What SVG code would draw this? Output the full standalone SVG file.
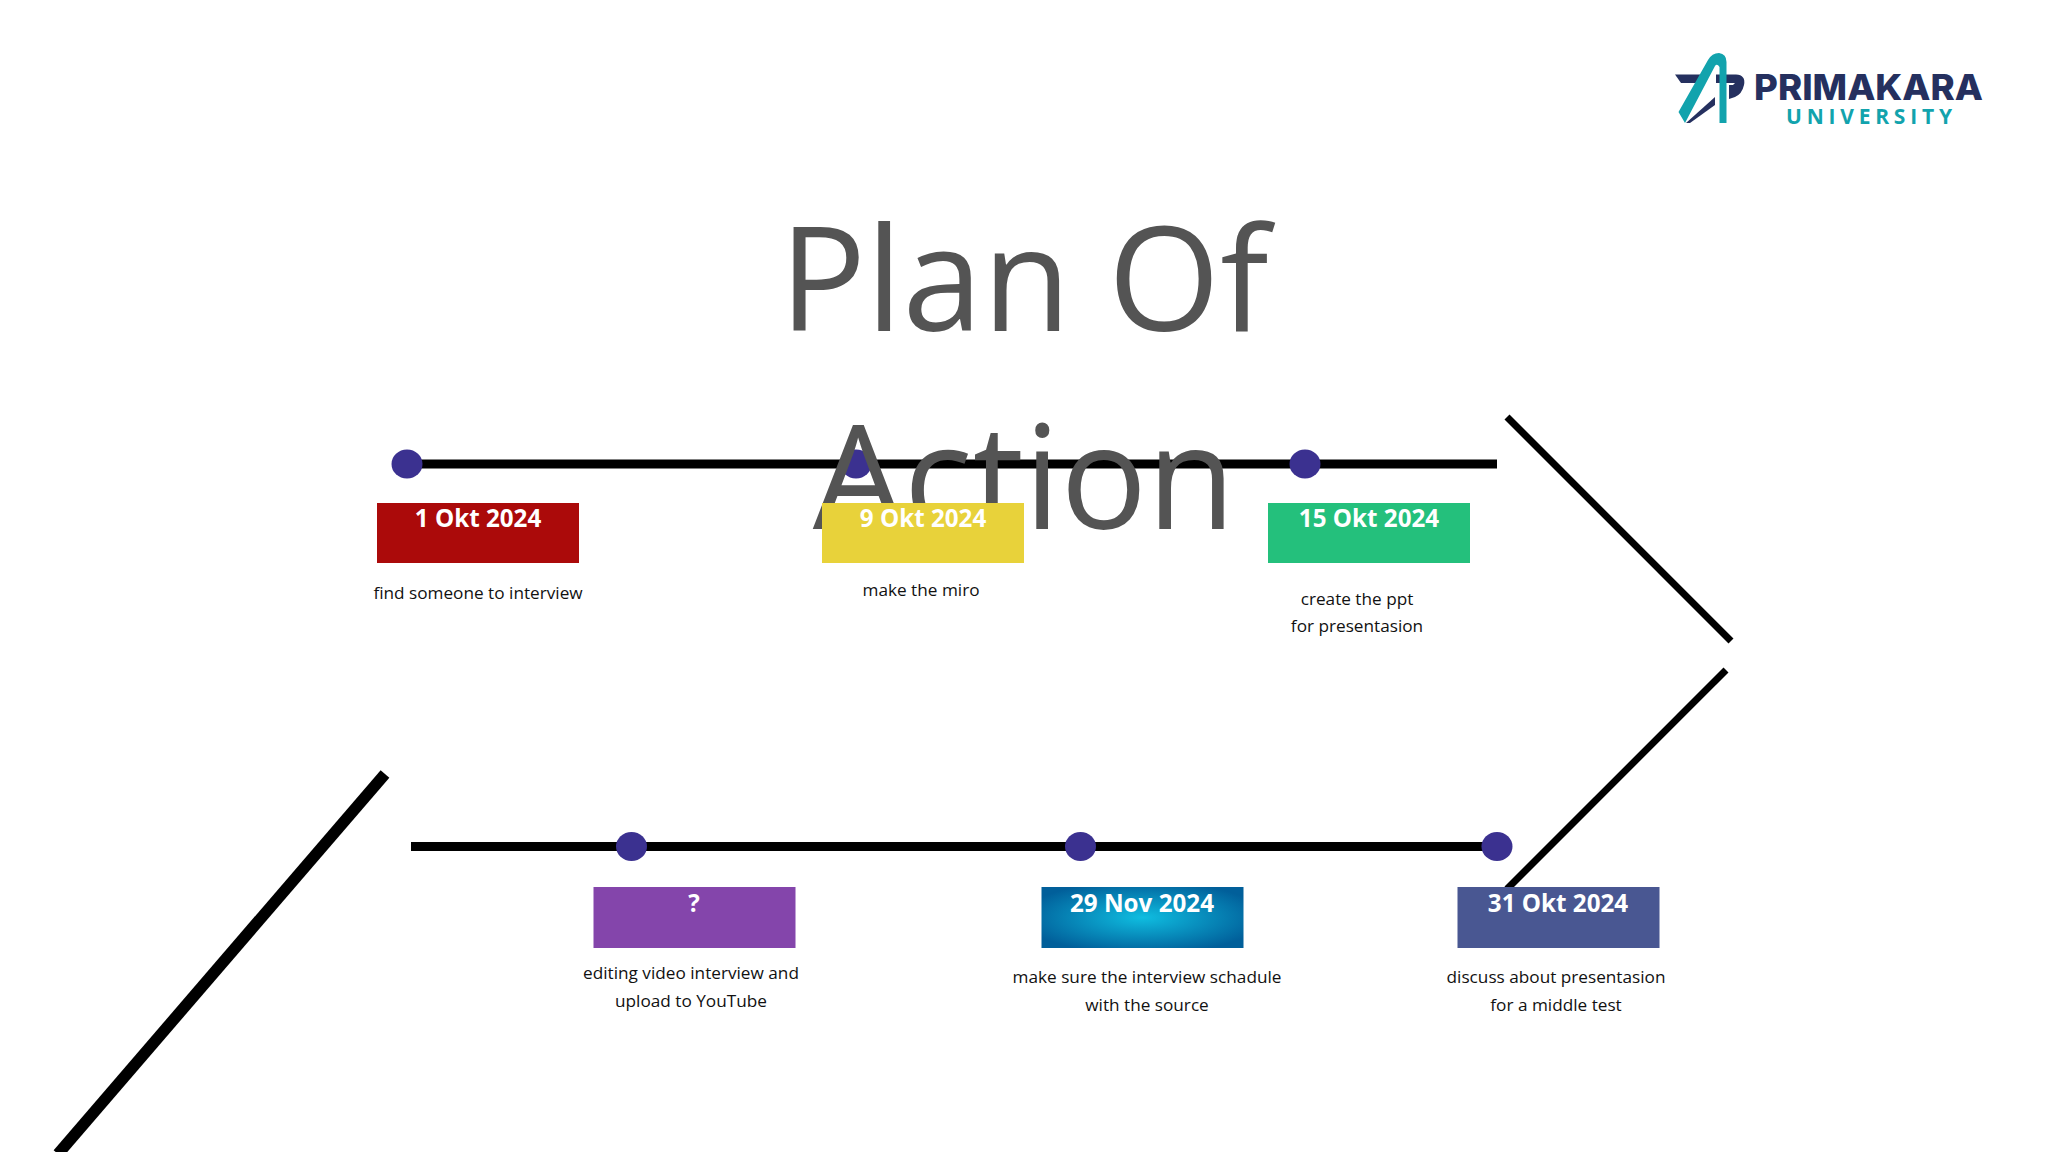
<svg xmlns="http://www.w3.org/2000/svg" width="2048" height="1152" viewBox="0 0 2048 1152">
<style>
.title{font:144px "Open Sans","Noto Sans",sans-serif;fill:#545454;text-anchor:middle}
.date{font:bold 24.2px "Open Sans","Noto Sans",sans-serif;fill:#fff;text-anchor:middle}
.desc{font:17.2px "Open Sans","Noto Sans",sans-serif;fill:#111;text-anchor:middle}
.dot{fill:#3b3190}
.ln{stroke:#000;fill:none}
.navy{fill:#25305f}
.teal{fill:#12a3ad}
</style>
<defs>
<radialGradient id="blue" cx="0.5" cy="0.5" r="0.6"><stop offset="0" stop-color="#0fbde0"/><stop offset="1" stop-color="#015f9a"/></radialGradient>
</defs>
<rect width="2048" height="1152" fill="#fff"/>
<g id="connectors">
<path class="ln" stroke-width="9" d="M406 464H1497"/>
<path class="ln" stroke-width="9" d="M411 846.5H1497"/>
<path class="ln" stroke-width="7" d="M1507 417L1731 641"/>
<path class="ln" stroke-width="7" d="M1726 670L1507 889"/>
<path class="ln" stroke-width="11.5" d="M385 774L58 1154"/>
</g>
<g id="dots">
<ellipse class="dot" cx="407" cy="464" rx="15.5" ry="14.5"/>
<ellipse class="dot" cx="856" cy="464" rx="15.5" ry="14.5"/>
<ellipse class="dot" cx="1305" cy="464" rx="15.5" ry="14.5"/>
<ellipse class="dot" cx="631.5" cy="846.5" rx="15.5" ry="14.5"/>
<ellipse class="dot" cx="1080.5" cy="846.5" rx="15.5" ry="14.5"/>
<ellipse class="dot" cx="1497" cy="846.5" rx="15.5" ry="14.5"/>
</g>
<g id="title">
<text class="title" x="1024" y="331">Plan Of</text>
<text class="title" x="1024" y="529">Action</text>
</g>
<g id="logo">
<path class="navy" d="M1675 74.500H1703L1696 83H1681Z"/>
<path class="navy" d="M1716 74.500H1736Q1746 75 1744 85Q1742 94 1735 97L1729 99V85H1733L1735 83H1716Z"/>
<path class="teal" d="M1678.500 112L1708 60Q1712 53 1719 53Q1726.500 54 1726.500 62V123H1719.500V67Q1717 63 1715 66L1685 123Z"/>
<path class="navy" d="M1686 123L1715 97V105L1690 123Z"/>
<text class="navy" x="1754" y="100" style="font:800 36px Inter,'Open Sans',sans-serif" textLength="229" lengthAdjust="spacingAndGlyphs">PRIMAKARA</text>
<text class="teal" x="1786" y="124" style="font:bold 21px 'Open Sans',sans-serif" textLength="166">UNIVERSITY</text>
</g>
<g id="n1"><rect x="377" y="503" width="202" height="60" fill="#ab0a0a"/><text class="date" x="478" y="527">1 Okt 2024</text><text class="desc" x="478" y="598.500">find someone to interview</text></g>
<g id="n2"><rect x="822" y="503" width="202" height="60" fill="#e8d23a"/><text class="date" x="923" y="527">9 Okt 2024</text><text class="desc" x="921" y="595.500">make the miro</text></g>
<g id="n3"><rect x="1268" y="503" width="202" height="60" fill="#24c07c"/><text class="date" x="1369" y="527">15 Okt 2024</text><text class="desc" x="1357" y="604.500">create the ppt</text><text class="desc" x="1357" y="632">for presentasion</text></g>
<g id="n4"><rect x="593.500" y="887" width="202" height="61" fill="#8445ab"/><text class="date" x="694" y="912">?</text><text class="desc" x="691" y="979">editing video interview and</text><text class="desc" x="691" y="1007">upload to YouTube</text></g>
<g id="n5"><rect x="1041.500" y="887" width="202" height="61" fill="url(#blue)"/><text class="date" x="1142" y="912">29 Nov 2024</text><text class="desc" x="1147" y="983">make sure the interview schadule</text><text class="desc" x="1147" y="1010.500">with the source</text></g>
<g id="n6"><rect x="1457.500" y="887" width="202" height="61" fill="#495792"/><text class="date" x="1558" y="912">31 Okt 2024</text><text class="desc" x="1556" y="983">discuss about presentasion</text><text class="desc" x="1556" y="1010.500">for a middle test</text></g>
</svg>
